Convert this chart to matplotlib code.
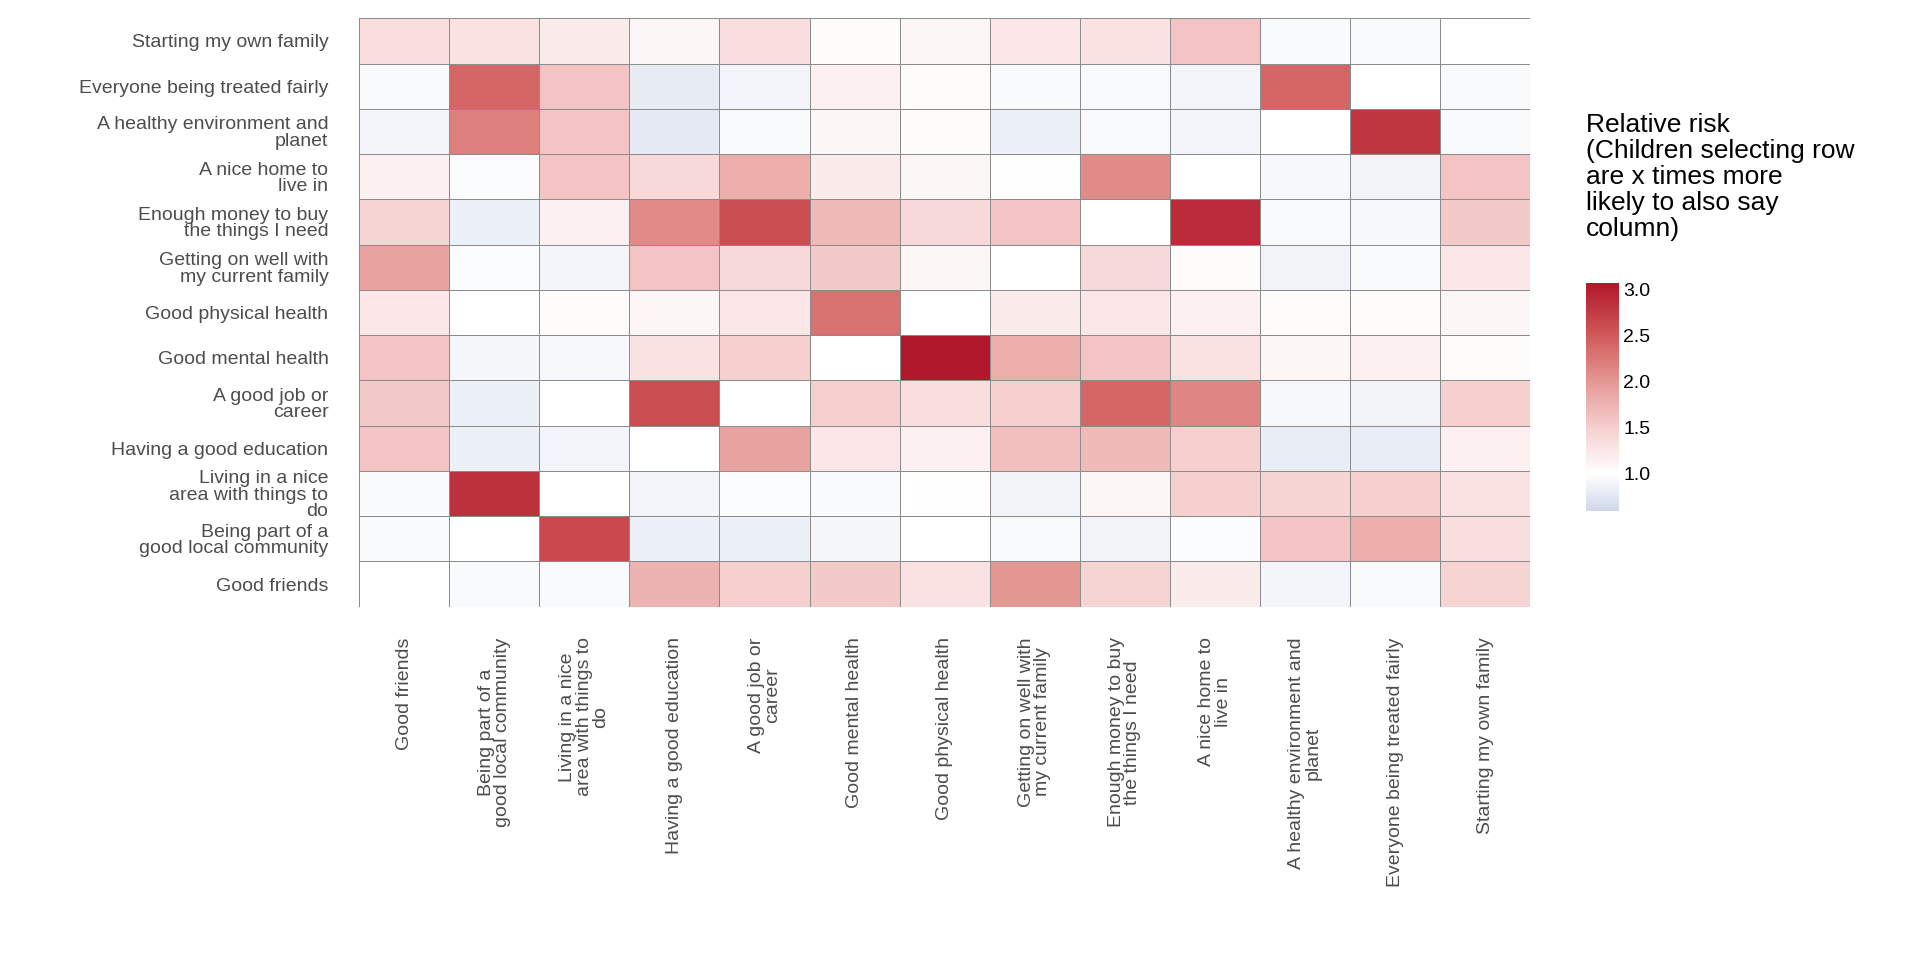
import numpy as np
import matplotlib
matplotlib.use("Agg")
import matplotlib.pyplot as plt
from matplotlib.colors import LinearSegmentedColormap, Normalize

plt.rcParams["font.family"] = ["Liberation Sans", "DejaVu Sans"]

nan = np.nan
rows = ["Starting my own family", "Everyone being treated fairly", "A healthy environment and\nplanet",
        "A nice home to\nlive in", "Enough money to buy\nthe things I need", "Getting on well with\nmy current family",
        "Good physical health", "Good mental health", "A good job or\ncareer", "Having a good education",
        "Living in a nice\narea with things to\ndo", "Being part of a\ngood local community", "Good friends"]
cols = rows[::-1]

values = np.array([
    [1.35, 1.3, 1.2, 1.1, 1.35, 1.05, 1.1, 1.25, 1.3, 1.6, 0.95, 0.95, nan],
    [0.95, 2.4, 1.6, 0.8, 0.9, 1.15, 1.05, 0.95, 0.95, 0.9, 2.4, 1.0, 0.95],
    [0.9, 2.2, 1.6, 0.78, 0.95, 1.1, 1.05, 0.85, 0.95, 0.9, 1.0, 2.8, 0.95],
    [1.15, 0.97, 1.6, 1.4, 1.8, 1.2, 1.1, 1.02, 2.1, 1.0, 0.93, 0.88, 1.6],
    [1.45, 0.85, 1.15, 2.1, 2.6, 1.7, 1.4, 1.6, 1.0, 2.9, 0.95, 0.93, 1.55],
    [1.9, 0.97, 0.9, 1.6, 1.4, 1.55, 1.1, 1.0, 1.4, 1.05, 0.88, 0.95, 1.25],
    [1.25, 1.0, 1.05, 1.1, 1.25, 2.3, 1.0, 1.2, 1.25, 1.15, 1.05, 1.05, 1.1],
    [1.6, 0.92, 0.93, 1.3, 1.5, 1.0, 3.07, 1.8, 1.6, 1.3, 1.1, 1.15, 1.05],
    [1.55, 0.85, 1.0, 2.6, 1.0, 1.5, 1.35, 1.5, 2.4, 2.15, 0.93, 0.88, 1.5],
    [1.6, 0.85, 0.9, 1.0, 1.9, 1.25, 1.15, 1.65, 1.7, 1.5, 0.82, 0.82, 1.15],
    [0.95, 2.85, 1.0, 0.9, 0.97, 0.95, 1.02, 0.88, 1.1, 1.5, 1.45, 1.5, 1.3],
    [0.95, 1.0, 2.65, 0.85, 0.85, 0.92, 1.0, 0.95, 0.88, 0.97, 1.6, 1.8, 1.35],
    [nan, 0.95, 0.95, 1.75, 1.5, 1.55, 1.3, 2.0, 1.45, 1.2, 0.9, 0.95, 1.45],
])

vmin, vmax = 0.6, 3.07
def pos(v):
    return (v - vmin) / (vmax - vmin)

cmap = LinearSegmentedColormap.from_list("rr", [
    (0.0, "#d0d8ea"), (pos(1.0), "#ffffff"), (pos(1.5), "#f6cfcf"),
    (pos(2.0), "#e59894"), (pos(2.5), "#d05a5a"), (1.0, "#b2182b")])
norm = Normalize(vmin=vmin, vmax=vmax)

fig = plt.figure(figsize=(19.2, 9.6), dpi=100)
ax = fig.add_axes([0.187, 0.368, 0.61, 0.613])
mesh = ax.pcolormesh(np.ma.masked_invalid(values), cmap=cmap, norm=norm,
                     edgecolors="#8c8c8c", linewidth=0.6)
ax.set_xlim(0, len(cols))
ax.set_ylim(len(rows), 0)
ax.set_xticks(np.arange(len(cols)) + 0.5)
ax.set_xticklabels(cols, rotation=90, ha="center", va="top", fontsize=14, color="#4d4d4d", linespacing=0.95)
ax.set_yticks(np.arange(len(rows)) + 0.5)
ax.set_yticklabels(rows, fontsize=14, color="#4d4d4d", ha="right", linespacing=0.95)
ax.tick_params(length=0, pad=22)
for s in ax.spines.values():
    s.set_visible(False)

cax = fig.add_axes([0.826, 0.468, 0.017, 0.237])
cb = fig.colorbar(mesh, cax=cax, ticks=[1.0, 1.5, 2.0, 2.5, 3.0])
cb.outline.set_visible(False)
cb.ax.tick_params(length=0, labelsize=14)
fig.text(0.826, 0.882, "Relative risk\n(Children selecting row\nare x times more\nlikely to also say\ncolumn)",
         fontsize=19, va="top", ha="left", linespacing=1.1)

fig.savefig("out.png", dpi=100)
